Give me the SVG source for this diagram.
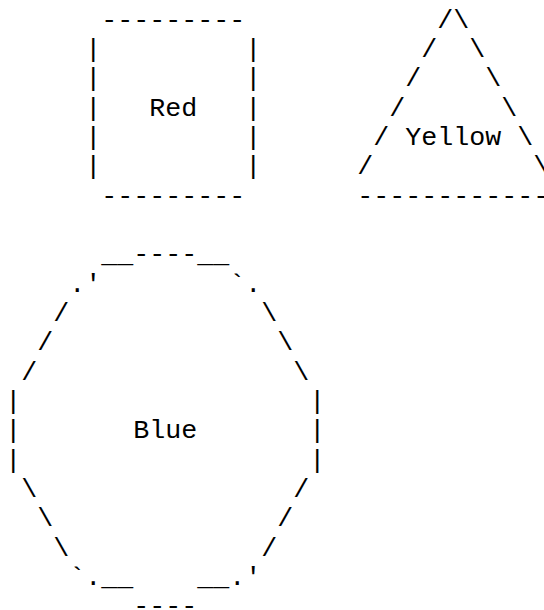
<svg xmlns="http://www.w3.org/2000/svg" width="544" height="610" viewBox="0 0 544 610">
<style>
text{font-family:"Liberation Mono","Courier New",monospace;font-size:26.667px;fill:#000;white-space:pre}
</style>
<rect width="544" height="610" fill="#fff"/>
<g id="red" xml:space="preserve">
<text x="101.3" y="27.5">---------</text>
<text x="85.3" y="56.83">|         |</text>
<text x="85.3" y="86.17">|         |</text>
<text x="85.3" y="115.5">|   Red   |</text>
<text x="85.3" y="144.83">|         |</text>
<text x="85.3" y="174.17">|         |</text>
<text x="101.3" y="203.5">---------</text>
</g>
<g id="yellow" xml:space="preserve">
<text x="437.3" y="27.5">/\</text>
<text x="421.3" y="56.83">/  \</text>
<text x="405.3" y="86.17">/    \</text>
<text x="389.3" y="115.5">/      \</text>
<text x="373.3" y="144.83">/ Yellow \</text>
<text x="357.3" y="174.17">/          \</text>
<text x="357.3" y="203.5">------------</text>
</g>
<g id="blue" xml:space="preserve">
<text x="101.3" y="262.17">__----__</text>
<text x="69.3" y="291.5">.'        `.</text>
<text x="53.3" y="320.83">/            \</text>
<text x="37.3" y="350.17">/              \</text>
<text x="21.3" y="379.5">/                \</text>
<text x="5.3" y="408.83">|                  |</text>
<text x="5.3" y="438.17">|       Blue       |</text>
<text x="5.3" y="467.5">|                  |</text>
<text x="21.3" y="496.83">\                /</text>
<text x="37.3" y="526.17">\              /</text>
<text x="53.3" y="555.5">\            /</text>
<text x="69.3" y="584.83">`.__    __.'</text>
<text x="133.3" y="614.17">----</text>
</g>
<g id="connectors"></g>
</svg>
